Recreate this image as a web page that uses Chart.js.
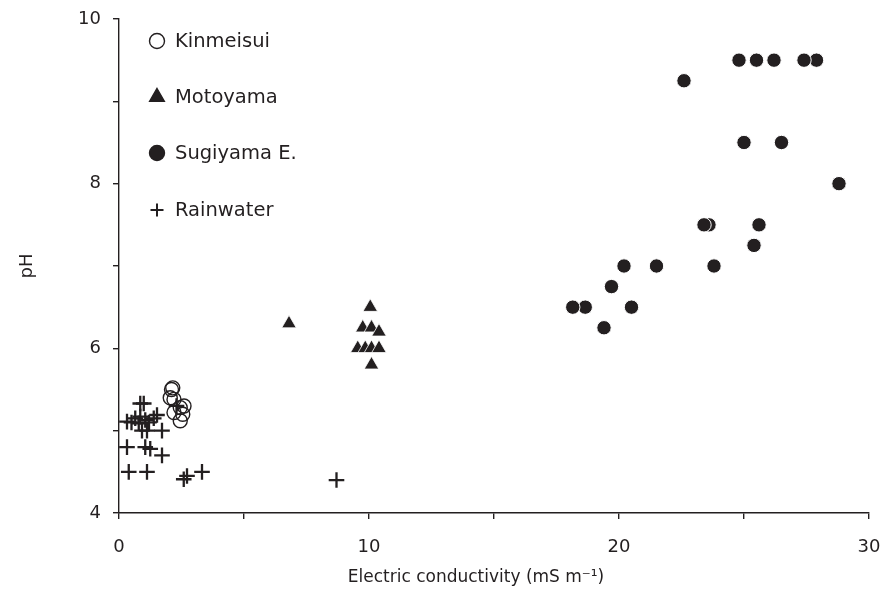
<!DOCTYPE html>
<html>
<head>
<meta charset="utf-8">
<script src="https://cdn.jsdelivr.net/npm/chart.js@4.4.1/dist/chart.umd.min.js"></script>
<style>
  html, body { margin: 0; padding: 0; background: #ffffff; }
  #wrap { width: 882px; height: 593px; }
</style>
</head>
<body>
<div id="wrap"><canvas id="c" width="882" height="593"></canvas></div>
<script>
// ---- Data ----
const seriesNames = ['Kinmeisui', 'Motoyama', 'Sugiyama E.', 'Rainwater'];

const kinmeisuiEC = [2.1, 2.15, 2.05, 2.2, 2.6, 2.45, 2.2, 2.45, 2.55];
const kinmeisuiPH = [5.5, 5.52, 5.4, 5.38, 5.3, 5.28, 5.22, 5.12, 5.2];

const motoyamaEC = [6.8, 10.05, 9.75, 10.1, 10.4, 9.55, 9.85, 10.1, 10.4, 10.1];
const motoyamaPH = [6.3, 6.5, 6.25, 6.25, 6.2, 6.0, 6.0, 6.0, 6.0, 5.8];

const sugiyamaEC = [24.8, 25.5, 26.2, 27.9, 27.4, 22.6, 25.0, 26.5, 28.8, 23.6, 23.4, 25.6, 25.4, 20.2, 21.5, 23.8, 19.7, 18.65, 18.15, 20.5, 19.4];
const sugiyamaPH = [9.5, 9.5, 9.5, 9.5, 9.5, 9.25, 8.5, 8.5, 8.0, 7.5, 7.5, 7.5, 7.25, 7.0, 7.0, 7.0, 6.75, 6.5, 6.5, 6.5, 6.25];

const rainEC = [0.85, 0.99, 0.32, 0.5, 0.65, 0.85, 1.05, 1.2, 1.39, 1.52, 0.79, 0.92, 1.12, 1.72, 0.32, 1.05, 1.25, 1.72, 0.39, 1.12, 2.59, 2.72, 3.32, 8.7, 2.3];
const rainPH = [5.33, 5.33, 5.11, 5.1, 5.15, 5.17, 5.13, 5.1, 5.15, 5.19, 5.09, 5.0, 5.0, 5.0, 4.8, 4.8, 4.78, 4.7, 4.5, 4.5, 4.41, 4.45, 4.5, 4.4, 5.3];

const xTickValues = [0, 10, 20, 30];
const yTickValues = [4, 6, 8, 10];
const xTitle = 'Electric conductivity (mS m\u207B\u00B9)';
const yTitle = 'pH';

const ink = '#231f20';
const FONT = '"DejaVu Sans", Verdana, sans-serif';

function pts(xs, ys) { return xs.map((x, i) => ({ x: x, y: ys[i] })); }

const styles = [
  { pointStyle: 'circle', radius: 7, bg: 'rgba(0,0,0,0)', border: ink, bw: 1.4 },
  { pointStyle: 'triangle', radius: 8.4, bg: ink, border: '#ffffff', bw: 0.8 },
  { pointStyle: 'circle', radius: 7.2, bg: ink, border: '#ffffff', bw: 1 },
  { pointStyle: 'cross', radius: 7.8, bg: ink, border: ink, bw: 2.3 }
];

const dataSets = [
  pts(kinmeisuiEC, kinmeisuiPH),
  pts(motoyamaEC, motoyamaPH),
  pts(sugiyamaEC, sugiyamaPH),
  pts(rainEC, rainPH)
];

const legendPlugin = {
  id: 'inLegend',
  afterDatasetsDraw(chart) {
    const ctx = chart.ctx;
    const rows = [41, 97, 153, 210];
    ctx.save();
    ctx.font = '19.5px ' + FONT;
    ctx.fillStyle = ink;
    ctx.textBaseline = 'middle';
    ctx.textAlign = 'left';
    seriesNames.forEach((n, i) => {
      const s = styles[i];
      const lx = 157, ly = rows[i];
      ctx.save();
      ctx.fillStyle = s.bg;
      ctx.strokeStyle = s.border === '#ffffff' ? s.bg : s.border;
      ctx.lineWidth = i === 3 ? 2 : 1.4;
      const r = i === 3 ? 6.5 : (i === 1 ? 8.5 : 7.5);
      Chart.helpers.drawPoint(ctx, { pointStyle: s.pointStyle, radius: r, rotation: 0, borderWidth: ctx.lineWidth }, lx, ly);
      ctx.restore();
      ctx.fillText(n, 175, ly + 1);
    });
    // x-axis title (offset left of the plot centre as in the reference)
    ctx.font = '17px ' + FONT;
    ctx.textAlign = 'center';
    ctx.fillText(xTitle, 476, 578);
    ctx.restore();
  }
};

new Chart(document.getElementById('c'), {
  type: 'scatter',
  data: {
    datasets: dataSets.map((d, i) => ({
      label: seriesNames[i],
      data: d,
      pointStyle: styles[i].pointStyle,
      pointRadius: styles[i].radius,
      pointHoverRadius: styles[i].radius,
      pointBackgroundColor: styles[i].bg,
      pointBorderColor: styles[i].border,
      pointBorderWidth: styles[i].bw,
      showLine: false
    }))
  },
  options: {
    responsive: false,
    animation: false,
    events: [],
    layout: { padding: { top: 19, right: 13, left: 0, bottom: 0 } },
    plugins: { legend: { display: false }, tooltip: { enabled: false } },
    scales: {
      x: {
        type: 'linear', min: 0, max: 30,
        afterFit(s) { s.height = 80; s.paddingLeft = 0; s.paddingRight = 0; },
        afterBuildTicks(s) { s.ticks = [0, 5, 10, 15, 20, 25, 30].map(v => ({ value: v })); },
        ticks: {
          autoSkip: false, maxRotation: 0,
          color: ink, font: { family: FONT, size: 18 }, padding: 18,
          callback: v => xTickValues.includes(v) ? String(v) : ''
        },
        grid: { drawOnChartArea: false, drawTicks: true, tickLength: 6, color: ink, lineWidth: 1.4 },
        border: { display: true, color: ink, width: 1.4 },
        title: { display: false }
      },
      y: {
        type: 'linear', min: 4, max: 10,
        afterFit(s) { s.width = 119; s.paddingTop = 0; s.paddingBottom = 0; },
        afterBuildTicks(s) { s.ticks = [4, 5, 6, 7, 8, 9, 10].map(v => ({ value: v })); },
        ticks: {
          autoSkip: false,
          color: ink, font: { family: FONT, size: 18 }, padding: 12,
          callback: v => yTickValues.includes(v) ? String(v) : ''
        },
        grid: { drawOnChartArea: false, drawTicks: true, tickLength: 6, color: ink, lineWidth: 1.4 },
        border: { display: true, color: ink, width: 1.4 },
        title: { display: true, text: yTitle, color: ink, font: { family: FONT, size: 18 }, padding: { top: 17, bottom: 10 } }
      }
    }
  },
  plugins: [legendPlugin]
});
</script>
</body>
</html>
